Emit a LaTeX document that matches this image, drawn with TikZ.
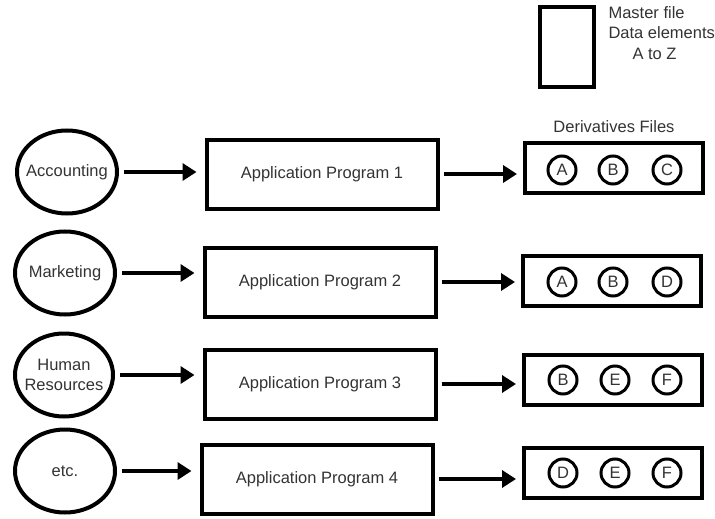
\documentclass[tikz,border=0pt]{standalone}
\usepackage{fontspec}
\setmainfont{Liberation Sans}
\usetikzlibrary{arrows.meta, shapes.geometric, positioning}

\begin{document}
\begin{tikzpicture}[x=1pt,y=-1pt]
\tikzset{
  every node/.style={font=\fontsize{16.5}{20.5}\selectfont, text=black!80},
  dept/.style={ellipse, draw=black, line width=4pt, minimum width=100pt, minimum height=83pt, inner xsep=-6pt, inner ysep=0pt, align=center},
  prog/.style={rectangle, draw=black, line width=4pt, minimum width=231pt, minimum height=69pt},
  deriv/.style={rectangle, draw=black, line width=4pt, minimum width=178pt, minimum height=50pt},
  elem/.style={circle, draw=black, line width=3pt, minimum size=28pt, inner sep=0pt},
  flow/.style={line width=4pt, -{Triangle[length=14pt,width=17pt]}}
}
\useasboundingbox (0,0) rectangle (715,519);

\node[rectangle, draw=black, line width=4pt, minimum width=54pt, minimum height=80pt] (master) at (567,47) {};
\node[align=left, anchor=west] (mastertext) at (605,33) {Master file\\Data elements\\\hspace*{24pt}A to Z};
\node (dtitle) at (614,127) {Derivatives Files};

\node[dept] (acc) at (67,172) {Accounting};
\node[dept] (mkt) at (65,273) {Marketing};
\node[dept, minimum width=98pt] (hr) at (64,375) {Human\\Resources};
\node[dept] (etc) at (65,471) {etc.};

\node[prog] (p1) at (322,174) {Application Program 1};
\node[prog] (p2) at (320,282) {Application Program 2};
\node[prog] (p3) at (320,384) {Application Program 3};
\node[prog] (p4) at (317,479) {Application Program 4};

\node[deriv] (d1) at (614,168) {};
\node[deriv] (d2) at (612,281) {};
\node[deriv] (d3) at (613,380) {};
\node[deriv] (d4) at (613,473) {};

\node[elem] (d1a) at (562,170) {A};
\node[elem] (d1b) at (613,170) {B};
\node[elem] (d1c) at (667,170) {C};
\node[elem] (d2a) at (562,282) {A};
\node[elem] (d2b) at (613,282) {B};
\node[elem] (d2d) at (667,282) {D};
\node[elem] (d3b) at (563,380) {B};
\node[elem] (d3e) at (615,380) {E};
\node[elem] (d3f) at (667,380) {F};
\node[elem] (d4d) at (563,473) {D};
\node[elem] (d4e) at (615,473) {E};
\node[elem] (d4f) at (667,473) {F};

\draw[flow, shorten <=5pt, shorten >=8pt] (acc.east) -- (acc.east -| p1.west);
\draw[flow, shorten <=5pt, shorten >=8pt] (mkt.east) -- (mkt.east -| p2.west);
\draw[flow, shorten <=5pt, shorten >=8pt] (hr.east) -- (hr.east -| p3.west);
\draw[flow, shorten <=5pt, shorten >=8pt] (etc.east) -- (etc.east -| p4.west);

\draw[flow, shorten <=4pt, shorten >=6pt] (p1.east) -- (p1.east -| d1.west);
\draw[flow, shorten <=4pt, shorten >=6pt] (p2.east) -- (p2.east -| d2.west);
\draw[flow, shorten <=4pt, shorten >=6pt] (p3.east) -- (p3.east -| d3.west);
\draw[flow, shorten <=4pt, shorten >=6pt] (p4.east) -- (p4.east -| d4.west);
\end{tikzpicture}
\end{document}
